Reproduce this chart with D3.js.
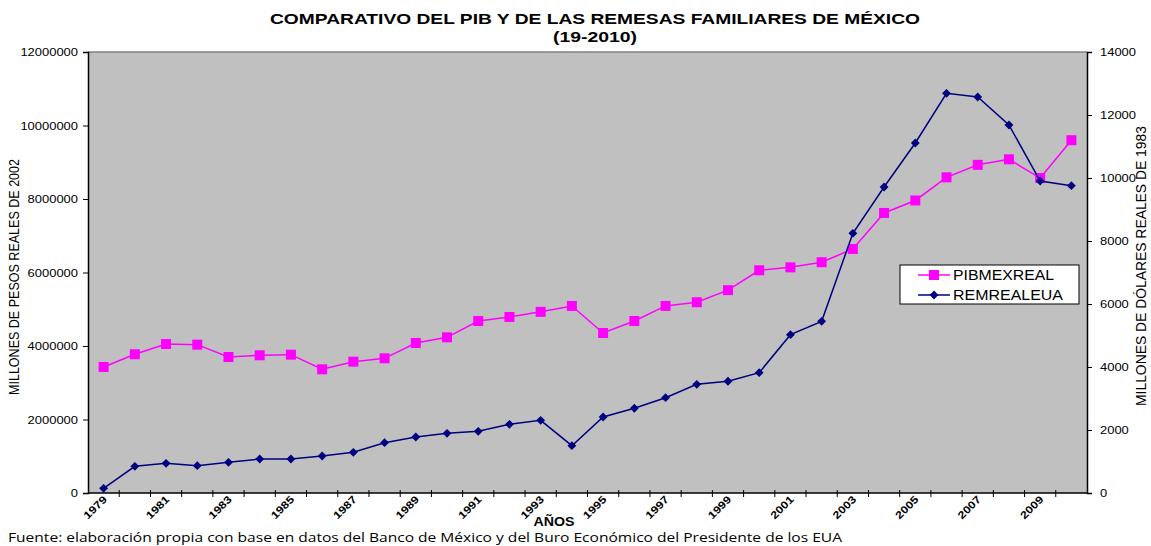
<!DOCTYPE html>
<html>
<head>
<meta charset="utf-8">
<script src="https://cdn.jsdelivr.net/npm/d3@7"></script>
<style>
  body { margin: 0; background: #fff; }
  text { font-family: "Liberation Sans", Arial, sans-serif; }
</style>
</head>
<body>
<div id="chart"></div>
<script>
// años del eje x
var years = d3.range(1979, 2011);

// PIB de México, millones de pesos reales de 2002 (eje izquierdo)
var pibMexReal = [3430000, 3775000, 4054000, 4036000, 3700000, 3747000, 3764000, 3366000,
  3574000, 3665000, 4082000, 4236000, 4680000, 4790000, 4930000, 5090000,
  4354000, 4680000, 5090000, 5190000, 5520000, 6060000, 6140000, 6280000,
  6640000, 7620000, 7960000, 8590000, 8930000, 9080000, 8570000, 9600000];

// remesas familiares, millones de dólares reales de 1983 (eje derecho)
var remRealEua = [149, 847, 942, 868, 974, 1079, 1079, 1175, 1291, 1598, 1778, 1894,
  1958, 2180, 2307, 1502, 2413, 2689, 3026, 3450, 3546, 3820, 5026, 5450,
  8244, 9714, 11111, 12688, 12571, 11683, 9905, 9756];

var leftTicks = [0, 2000000, 4000000, 6000000, 8000000, 10000000, 12000000];
var rightTicks = [0, 2000, 4000, 6000, 8000, 10000, 12000, 14000];
var yearLabels = years.filter(function(y) { return (y - 1979) % 2 === 0; });

var width = 1151, height = 546;
var margin = {top: 52, right: 64, bottom: 53, left: 88};
var iw = width - margin.left - margin.right,
    ih = height - margin.top - margin.bottom;

var svg = d3.select("#chart").append("svg")
    .attr("width", width)
    .attr("height", height);

// el gráfico original está estirado en horizontal: se ajusta el ancho de cada texto
function stretch(sel, perChar) {
  sel.each(function() {
    var t = d3.select(this);
    t.attr("textLength", t.text().length * perChar).attr("lengthAdjust", "spacingAndGlyphs");
  });
}

// escalas
var x = d3.scaleBand().domain(years).range([0, iw]);
var yL = d3.scaleLinear().domain([0, 12000000]).range([ih, 0]);
var yR = d3.scaleLinear().domain([0, 14000]).range([ih, 0]);

// título
svg.append("text")
    .attr("x", 595).attr("y", 24)
    .attr("text-anchor", "middle")
    .attr("textLength", 650).attr("lengthAdjust", "spacingAndGlyphs")
    .style("font-weight", "bold").style("font-size", "15px")
    .text("COMPARATIVO DEL PIB Y DE LAS REMESAS FAMILIARES DE MÉXICO");
svg.append("text")
    .attr("x", 595).attr("y", 42)
    .attr("text-anchor", "middle")
    .attr("textLength", 84).attr("lengthAdjust", "spacingAndGlyphs")
    .style("font-weight", "bold").style("font-size", "15px")
    .text("(19-2010)");

var g = svg.append("g").attr("transform", "translate(" + margin.left + "," + margin.top + ")");

// fondo gris del área de trazado
g.append("rect")
    .attr("width", iw).attr("height", ih)
    .attr("fill", "#c0c0c0");
g.append("line")
    .attr("x1", 0).attr("x2", iw).attr("y1", 0).attr("y2", 0)
    .attr("stroke", "#808080").attr("stroke-width", 1.5);

// eje izquierdo
var axL = g.append("g")
    .call(d3.axisLeft(yL).tickValues(leftTicks).tickFormat(d3.format("d")).tickSize(5).tickPadding(5));
// eje derecho
var axR = g.append("g")
    .attr("transform", "translate(" + iw + ",0)")
    .call(d3.axisRight(yR).tickValues(rightTicks).tickFormat(d3.format("d")).tickSize(5).tickPadding(8));
[axL, axR].forEach(function(a) {
  a.select(".domain").attr("stroke", "#000").attr("stroke-width", 1.5);
  a.selectAll("text").style("font-size", "11.5px").attr("fill", "#000")
    .style("font-family", "'Liberation Sans', Arial, sans-serif");
  stretch(a.selectAll("text"), 7.2);
  a.selectAll(".tick line").attr("stroke", "#000");
});

// eje x: marcas entre categorías
var xAxis = g.append("g").attr("transform", "translate(0," + ih + ")");
xAxis.append("line")
    .attr("x1", 0).attr("x2", iw)
    .attr("stroke", "#000").attr("stroke-width", 1.5);
xAxis.selectAll(".xt")
    .data(years.slice(1))
    .enter().append("line")
    .attr("x1", function(d) { return x(d); })
    .attr("x2", function(d) { return x(d); })
    .attr("y1", -3).attr("y2", 4)
    .attr("stroke", "#000");
var xl = xAxis.selectAll(".xl")
    .data(yearLabels)
    .enter().append("text")
    .attr("text-anchor", "end")
    .attr("transform", function(d) {
      return "translate(" + (x(d) + x.bandwidth() / 2 + 4) + ",7) rotate(-45)";
    })
    .style("font-size", "10.5px").style("font-weight", "bold")
    .text(function(d) { return d; });
stretch(xl, 7);

// títulos de ejes
svg.append("text")
    .attr("transform", "translate(19,277) rotate(-90)")
    .attr("text-anchor", "middle")
    .attr("textLength", 236).attr("lengthAdjust", "spacingAndGlyphs")
    .style("font-size", "14px")
    .text("MILLONES DE PESOS REALES DE 2002");
svg.append("text")
    .attr("transform", "translate(1146,266) rotate(-90)")
    .attr("text-anchor", "middle")
    .attr("textLength", 280).attr("lengthAdjust", "spacingAndGlyphs")
    .style("font-size", "14px")
    .text("MILLONES DE DÓLARES REALES DE 1983");
svg.append("text")
    .attr("x", 554).attr("y", 526)
    .attr("text-anchor", "middle")
    .attr("textLength", 41).attr("lengthAdjust", "spacingAndGlyphs")
    .style("font-weight", "bold").style("font-size", "13px")
    .text("AÑOS");

// series
var cx = function(d, i) { return x(years[i]) + x.bandwidth() / 2; };

var linePib = d3.line().x(cx).y(function(d) { return yL(d); });
var lineRem = d3.line().x(cx).y(function(d) { return yR(d); });

g.append("path").datum(pibMexReal)
    .attr("d", linePib).attr("fill", "none")
    .attr("stroke", "#ff00ff").attr("stroke-width", 1.5);
g.selectAll(".pib").data(pibMexReal).enter().append("rect")
    .attr("x", function(d, i) { return cx(d, i) - 5; })
    .attr("y", function(d) { return yL(d) - 5; })
    .attr("width", 10).attr("height", 10)
    .attr("fill", "#ff00ff");

g.append("path").datum(remRealEua)
    .attr("d", lineRem).attr("fill", "none")
    .attr("stroke", "#000080").attr("stroke-width", 1.5);
var diamond = d3.symbol().type(d3.symbolDiamond2).size(50);
g.selectAll(".rem").data(remRealEua).enter().append("path")
    .attr("d", diamond)
    .attr("transform", function(d, i) { return "translate(" + cx(d, i) + "," + yR(d) + ")"; })
    .attr("fill", "#000080");

// leyenda
var lg = svg.append("g").attr("transform", "translate(900,265)");
lg.append("rect")
    .attr("width", 179).attr("height", 39)
    .attr("fill", "#fff").attr("stroke", "#000");
var items = [
  {name: "PIBMEXREAL", color: "#ff00ff", type: "square", len: 101},
  {name: "REMREALEUA", color: "#000080", type: "diamond", len: 110}
];
items.forEach(function(it, i) {
  var yy = 10 + i * 20;
  lg.append("line")
    .attr("x1", 18).attr("x2", 50).attr("y1", yy).attr("y2", yy)
    .attr("stroke", it.color).attr("stroke-width", 1.5);
  if (it.type === "square") {
    lg.append("rect").attr("x", 29).attr("y", yy - 5).attr("width", 10).attr("height", 10).attr("fill", it.color);
  } else {
    lg.append("path").attr("d", diamond).attr("transform", "translate(34," + yy + ")").attr("fill", it.color);
  }
  lg.append("text")
    .attr("x", 53).attr("y", yy + 5)
    .attr("textLength", it.len).attr("lengthAdjust", "spacingAndGlyphs")
    .style("font-size", "14.5px")
    .text(it.name);
});

// fuente
svg.append("text")
    .attr("x", 8).attr("y", 541.5)
    .attr("textLength", 834).attr("lengthAdjust", "spacingAndGlyphs")
    .style("font-family", "'Open Sans', 'Noto Sans', sans-serif")
    .style("font-size", "12px")
    .text("Fuente: elaboración propia con base en datos del Banco de México y del Buro Económico del Presidente de los EUA");
</script>
</body>
</html>
